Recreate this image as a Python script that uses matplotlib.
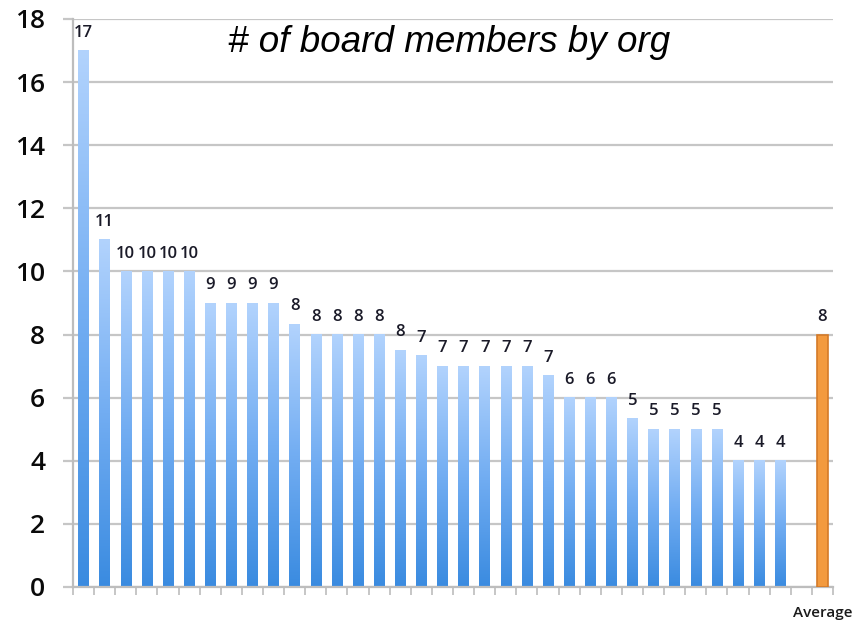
import numpy as np
import matplotlib
matplotlib.use("Agg")
import matplotlib.pyplot as plt
from matplotlib.colors import LinearSegmentedColormap

# ---- data ----
org_values = [17, 11, 10, 10, 10, 10, 9, 9, 9, 9, 8.33, 8, 8, 8, 8, 7.5, 7.33,
              7, 7, 7, 7, 7, 6.7, 6, 6, 6, 5.33, 5, 5, 5, 5, 4, 4, 4]
average_value = 8
category_labels = [""] * len(org_values) + ["", "Average"]
title = "# of board members by org"
y_ticks = [0, 2, 4, 6, 8, 10, 12, 14, 16, 18]

# ---- figure ----
fig = plt.figure(figsize=(8.56, 6.22), dpi=100)
ax = fig.add_axes([73 / 856, 1 - 587 / 622, (833 - 73) / 856, (587 - 19) / 622])

n = len(category_labels)
x_org = np.arange(len(org_values))
x_avg = n - 1
bw = 0.5

grid_c = "#c6c6c6"
ax.set_axisbelow(True)
ax.yaxis.grid(True, color=grid_c, linewidth=1.6)

# blue bars with vertical gradient
bars = ax.bar(x_org, org_values, width=bw, color="none", edgecolor="none", zorder=2)
cmap = LinearSegmentedColormap.from_list("g", ["#3a8be0", "#72adf2", "#b2d3fd"])
grad = np.linspace(0, 1, 256).reshape(-1, 1)
for b in bars:
    x0, y0 = b.get_x(), b.get_y()
    w, h = b.get_width(), b.get_height()
    ax.imshow(grad, cmap=cmap, origin="lower", aspect="auto",
              extent=(x0, x0 + w, y0, y0 + h), zorder=2, interpolation="bicubic")

# average bar
ax.bar([x_avg], [average_value], width=bw, color="#f39a3e", edgecolor="#d47a28",
       linewidth=1.2, zorder=3)

# data labels
lab_kw = dict(textcoords="offset points", ha="center", va="baseline",
              fontsize=12, color="#1a1a28", family="Open Sans", fontweight="semibold")
for xi, v in zip(x_org, org_values):
    ax.annotate(f"{v:.0f}", (xi, v), xytext=(0, 10), **lab_kw)
ax.annotate(f"{average_value:.0f}", (x_avg, average_value), xytext=(0, 10), **lab_kw)

ax.set_xlim(-0.5, n - 0.5)
ax.set_ylim(0, 18)
ax.set_yticks(y_ticks)
ax.set_yticklabels([str(t) for t in y_ticks], fontsize=19, family="Open Sans",
                   color="#0a0a0a", fontweight="semibold")
ax.tick_params(axis="y", length=7.5, width=1.6, color=grid_c, pad=12.5)

ax.set_xticks(np.arange(n))
ax.set_xticklabels(category_labels, fontsize=11, family="Open Sans",
                   color="#1a1a1a", fontweight="semibold")
ax.tick_params(axis="x", which="major", length=0, pad=14)
ax.set_xticks(np.arange(n + 1) - 0.5, minor=True)
ax.tick_params(axis="x", which="minor", length=6, width=1.4, color=grid_c)

for s in ["top", "right"]:
    ax.spines[s].set_visible(False)
for s in ["left", "bottom"]:
    ax.spines[s].set_color("#bdbdbd")
    ax.spines[s].set_linewidth(1.6)

fig.text(449 / 856, 1 - 52 / 622, title, ha="center", va="baseline",
         fontsize=26.5, style="italic", family="Liberation Sans", color="#000000")

fig.savefig("out.png", dpi=100)
